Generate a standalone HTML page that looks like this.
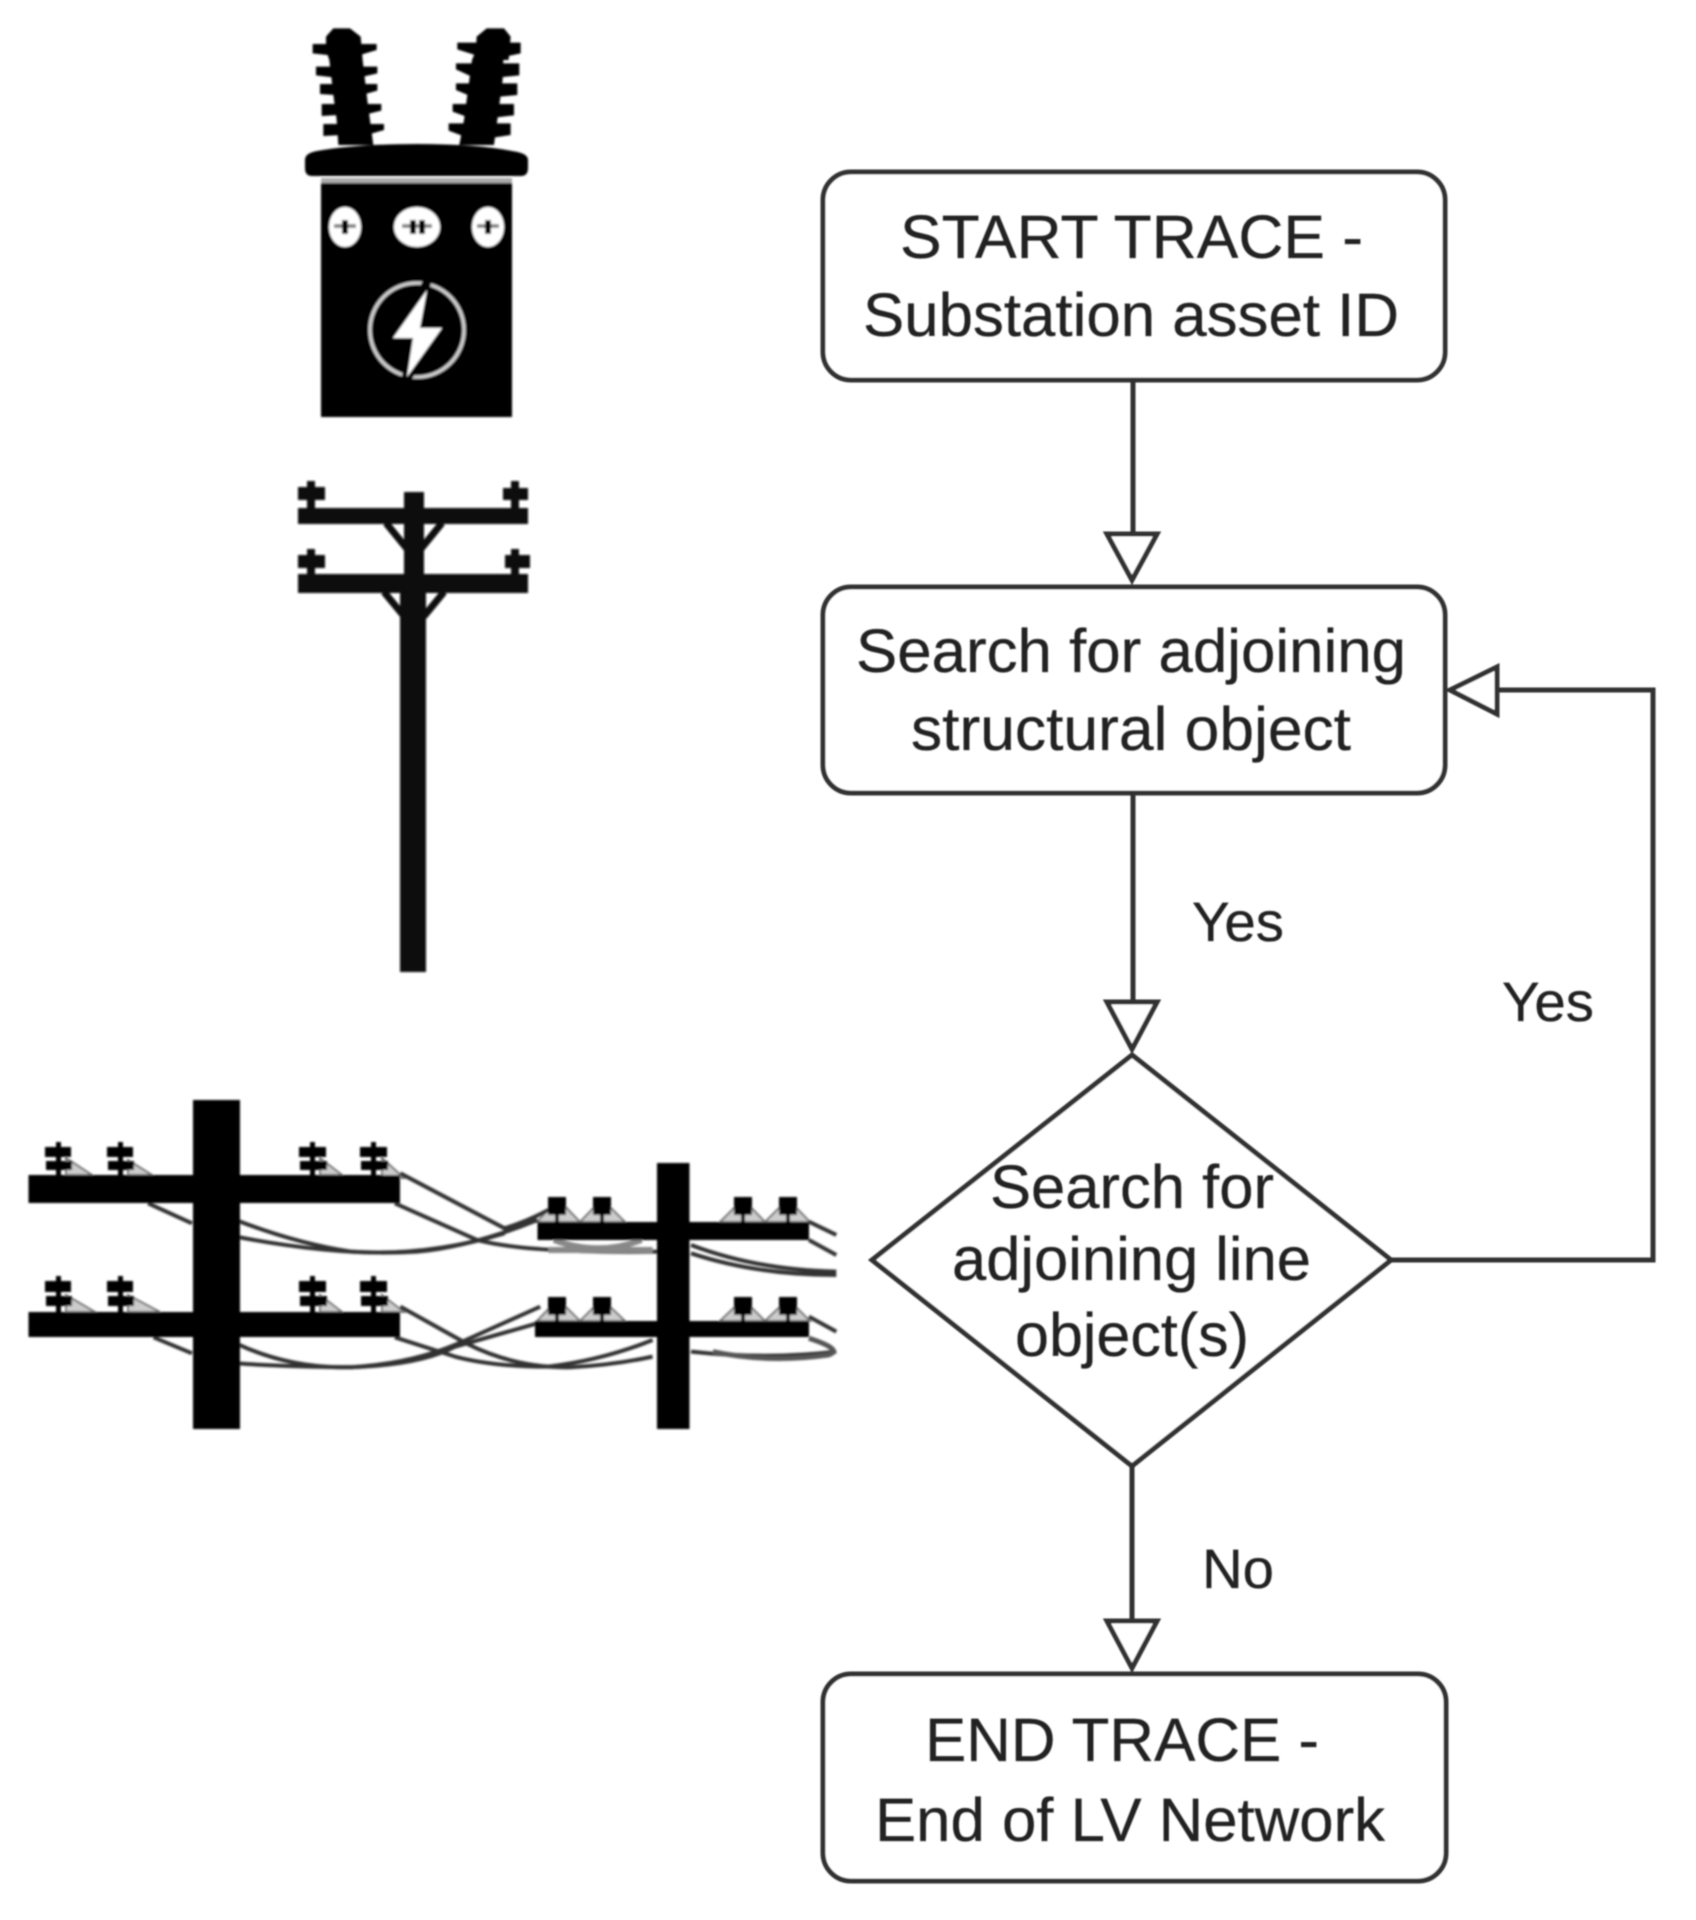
<!DOCTYPE html>
<html>
<head>
<meta charset="utf-8">
<style>
html,body{margin:0;padding:0;background:#fff;width:1696px;height:1920px;overflow:hidden}
svg{display:block}
text{font-family:"Liberation Sans",sans-serif;font-size:61px;fill:#242424;stroke:#242424;stroke-width:.3}
</style>
</head>
<body>
<svg width="1696" height="1920" viewBox="0 0 1696 1920" xmlns="http://www.w3.org/2000/svg">
<defs>
<filter id="b" x="-5%" y="-5%" width="110%" height="110%"><feGaussianBlur stdDeviation="1.1"/></filter>
<filter id="t" x="-5%" y="-5%" width="110%" height="110%"><feGaussianBlur stdDeviation="0.8"/></filter>
</defs>
<rect width="1696" height="1920" fill="#fff"/>

<!-- Transformer -->
<g filter="url(#b)" fill="#000">
  <g transform="translate(270,0) scale(0.3333)">
    <path d="M190 85H240L272 110L278 180L285 240L292 300L300 360L310 435H205L200 360L192 300L185 240L178 180L168 150L168 110Z"/>
    <path d="M128 132H320V150L270 165H172L128 160Z"/>
    <path d="M138 200H322V220L270 232H190L138 226Z"/>
    <path d="M150 252H322V272L275 285H195L150 282Z"/>
    <path d="M155 312H334V332L280 345H205L155 348Z"/>
    <path d="M160 372H342V390L290 405H215L160 408Z"/>
    <path d="M650 85H702L722 110L716 180L700 180L698 240L690 300L682 360L672 435H568L582 360L590 300L598 240L606 180L618 150L620 110Z"/>
    <path d="M562 128H752V160L715 168H625L562 148Z"/>
    <path d="M558 190H748V226L690 232H610L558 208Z"/>
    <path d="M558 250H742V285L690 290H605L558 270Z"/>
    <path d="M548 312H732V346L680 352H595L548 335Z"/>
    <path d="M536 370H722V405L675 412H590L536 392Z"/>
  </g>
  <path d="M312 176q-7 0-7-8v-8q0-7 12-9 40-7 100-7t95 7q16 2 16 9v8q0 8-7 8z"/>
  <rect x="321" y="183" width="191" height="234"/>
  <rect x="321" y="178" width="191" height="5" fill="#aaa"/>
  <ellipse cx="345" cy="227" rx="16" ry="20" fill="#fff"/>
  <ellipse cx="417" cy="227" rx="23" ry="20" fill="#fff"/>
  <ellipse cx="488" cy="227" rx="16" ry="20" fill="#fff"/>
  <rect x="334" y="224" width="22" height="4" fill="#888"/>
  <rect x="402" y="224" width="30" height="4" fill="#888"/>
  <rect x="477" y="224" width="22" height="4" fill="#888"/>
  <rect x="342" y="220" width="6" height="14"/>
  <rect x="410" y="220" width="6" height="14"/>
  <rect x="419" y="220" width="6" height="14"/>
  <rect x="485" y="220" width="6" height="14"/>
  <circle cx="417" cy="330" r="47" fill="none" stroke="#ccc" stroke-width="3.5"/>
  <polygon points="427,282 393,338 413,338 405,382 442,328 420,328" fill="#000" stroke="#000" stroke-width="8"/>
  <polygon points="427,290 393,338 413,338 407,377 442,328 420,328" fill="#fff"/>
</g>

<!-- Pole 1 -->
<g filter="url(#b)" fill="#0a0a0a">
  <rect x="298" y="508" width="230" height="16"/>
  <rect x="298" y="574" width="230" height="19"/>
  <rect x="404" y="492" width="20" height="100"/>
  <rect x="400" y="590" width="26" height="382"/>
  <rect x="298" y="487" width="27" height="13"/>
  <rect x="307" y="481" width="8" height="30"/>
  <rect x="503" y="488" width="25" height="12"/>
  <rect x="511" y="481" width="8" height="30"/>
  <rect x="298" y="555" width="27" height="13"/>
  <rect x="307" y="549" width="8" height="28"/>
  <rect x="505" y="555" width="25" height="13"/>
  <rect x="511" y="549" width="8" height="28"/>
  <path d="M386 523L408 550L420 550L442 523M384 592L403 615L425 615L444 592" fill="none" stroke="#0a0a0a" stroke-width="7"/>
</g>

<!-- Poles with wires -->
<g filter="url(#b)" fill="#000">
  <!-- insulator hills -->
  <g fill="#ccc" stroke="#777" stroke-width="2">
    <path d="M537 1222L558 1199L580 1222L602 1199L625 1222Z"/>
    <path d="M720 1222L743 1199L765 1222L788 1199L810 1222Z"/>
    <path d="M537 1321L558 1299L580 1321L602 1299L625 1321Z"/>
    <path d="M720 1321L743 1299L765 1321L788 1299L810 1321Z"/>
    <path d="M66 1158L92 1175H66Z"/><path d="M128 1160L152 1175H128Z"/>
    <path d="M320 1158L342 1175H320Z"/><path d="M382 1158L404 1178H382Z"/>
    <path d="M66 1295L95 1312H66Z"/><path d="M128 1295L160 1312H128Z"/>
    <path d="M320 1295L342 1312H320Z"/><path d="M382 1295L404 1312H382Z"/>
  </g>
  <g transform="translate(0,1080) scale(0.5484,0.3333)" fill="none" stroke="#333">
      <path vector-effect="non-scaling-stroke" stroke-width="4" d="M730 280L920 445Q960 425 1000 390"/>
      <path vector-effect="non-scaling-stroke" stroke-width="4" d="M720 370L870 480Q960 520 1200 515"/>
      <path vector-effect="non-scaling-stroke" stroke-width="4" d="M270 370L350 430M430 420Q540 490 640 515Q780 530 920 460"/>
      <path vector-effect="non-scaling-stroke" stroke-width="4" d="M430 470Q620 530 760 515Q860 500 980 420"/>
      <path vector-effect="non-scaling-stroke" stroke-width="6" stroke="#888" d="M1010 480Q1090 530 1170 480M1000 510L1190 510"/>
      <path vector-effect="non-scaling-stroke" stroke-width="4" d="M1475 425L1525 465M1475 480L1525 525"/>
      <path vector-effect="non-scaling-stroke" stroke-width="4" d="M1260 520Q1380 585 1525 585M1260 495Q1380 570 1525 575"/>
      <path vector-effect="non-scaling-stroke" stroke-width="4" d="M730 680L850 790Q940 865 1040 862Q1120 855 1190 830"/>
      <path vector-effect="non-scaling-stroke" stroke-width="4" d="M720 772L830 830Q900 860 1000 860Q1100 840 1190 780"/>
      <path vector-effect="non-scaling-stroke" stroke-width="4" d="M985 680L850 780Q760 850 640 862Q520 860 430 850"/>
      <path vector-effect="non-scaling-stroke" stroke-width="4" d="M280 772L350 820M430 790Q520 860 620 862Q760 860 830 800L980 730"/>
      <path vector-effect="non-scaling-stroke" stroke-width="4" d="M1475 710L1525 755M1260 815Q1400 840 1525 815"/>
      <path vector-effect="non-scaling-stroke" stroke-width="5" stroke="#555" d="M1475 775Q1540 810 1510 825Q1400 850 1300 815"/>
  </g>
  <!-- big pole -->
  <rect x="193" y="1100" width="47" height="329"/>
  <rect x="28.5" y="1175" width="371.5" height="28"/>
  <rect x="28.5" y="1312" width="371.5" height="25"/>
  <!-- small pole -->
  <rect x="657" y="1163" width="32.5" height="266"/>
  <rect x="537.5" y="1222" width="271.5" height="18"/>
  <rect x="535" y="1321" width="274" height="16"/>
  <!-- big insulators -->
  <path d="M45 1147h26v10h-26zM46 1161h26v9h-26zM56 1142h5v36h-5z"/>
  <path d="M107 1147h26v10h-26zM108 1161h26v9h-26zM118 1142h5v36h-5z"/>
  <path d="M299 1147h27v10h-27zM300 1161h27v9h-27zM310 1142h5v36h-5z"/>
  <path d="M360 1147h27v10h-27zM361 1161h27v9h-27zM371 1142h5v36h-5z"/>
  <path d="M45 1281h26v11h-26zM46 1296h26v10h-26zM56 1276h5v38h-5z"/>
  <path d="M107 1281h26v11h-26zM108 1296h26v10h-26zM118 1276h5v38h-5z"/>
  <path d="M299 1281h27v11h-27zM300 1296h27v10h-27zM310 1276h5v38h-5z"/>
  <path d="M360 1281h27v11h-27zM361 1296h27v10h-27zM371 1276h5v38h-5z"/>
  <!-- small insulators -->
  <path d="M548 1197h18v18h-18zM555 1205h4v18h-4zM593 1197h18v18h-18zM600 1205h4v18h-4zM734 1197h18v18h-18zM741 1205h4v18h-4zM779 1197h18v18h-18zM786 1205h4v18h-4z"/>
  <path d="M548 1297h18v18h-18zM555 1305h4v18h-4zM593 1297h18v18h-18zM600 1305h4v18h-4zM734 1297h18v18h-18zM741 1305h4v18h-4zM779 1297h18v18h-18zM786 1305h4v18h-4z"/>
</g>

<!-- Flowchart -->
<g filter="url(#t)" fill="#fff" stroke="#333" stroke-width="5">
  <rect x="823" y="172" width="622" height="208" rx="28"/>
  <rect x="823" y="587" width="622" height="206" rx="28"/>
  <rect x="823" y="1674" width="623" height="207" rx="28"/>
  <polygon points="1132,1055 1391,1260 1132,1466 872,1260"/>
  <path d="M1133 380V534M1133 793V1002M1132 1466V1621M1391 1260H1653V690H1497" fill="none"/>
  <polygon points="1107,534 1157,534 1132,580"/>
  <polygon points="1107,1002 1157,1002 1132,1049"/>
  <polygon points="1107,1621 1157,1621 1132,1668"/>
  <polygon points="1497,667 1497,714 1450,690"/>
</g>

<g filter="url(#t)">
  <text x="900" y="258" textLength="463" lengthAdjust="spacingAndGlyphs">START TRACE -</text>
  <text x="863" y="336" textLength="536" lengthAdjust="spacingAndGlyphs">Substation asset ID</text>
  <text x="856" y="672" textLength="550" lengthAdjust="spacingAndGlyphs">Search for adjoining</text>
  <text x="911" y="750" textLength="440" lengthAdjust="spacingAndGlyphs">structural object</text>
  <text x="990" y="1208" textLength="284" lengthAdjust="spacingAndGlyphs">Search for</text>
  <text x="952" y="1280" textLength="359" lengthAdjust="spacingAndGlyphs">adjoining line</text>
  <text x="1015" y="1356" textLength="234" lengthAdjust="spacingAndGlyphs">object(s)</text>
  <text x="925" y="1761" textLength="394" lengthAdjust="spacingAndGlyphs">END TRACE -</text>
  <text x="875" y="1841" textLength="510" lengthAdjust="spacingAndGlyphs">End of LV Network</text>
  <text x="1192" y="941" textLength="92" lengthAdjust="spacingAndGlyphs" style="font-size:56px">Yes</text>
  <text x="1502" y="1021" textLength="92" lengthAdjust="spacingAndGlyphs" style="font-size:56px">Yes</text>
  <text x="1202" y="1588" textLength="72" lengthAdjust="spacingAndGlyphs" style="font-size:56px">No</text>
</g>
</svg>
</body>
</html>
